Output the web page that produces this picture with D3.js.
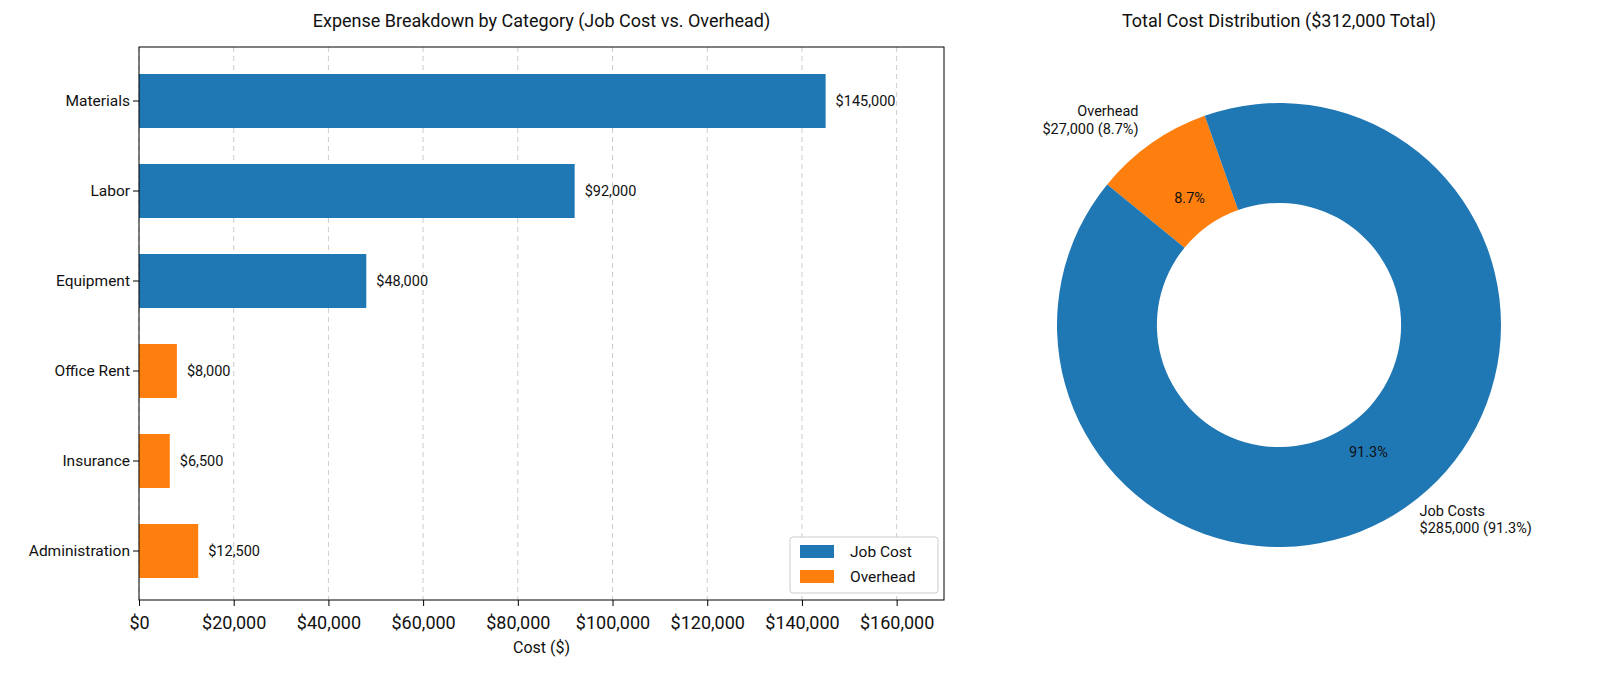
<!DOCTYPE html>
<html><head><meta charset="utf-8">
<script src="https://cdn.jsdelivr.net/npm/d3@7"></script>
<style>body{margin:0;background:#fff}text{font-family:Roboto,"Open Sans",sans-serif;fill:#111}</style>
</head><body><svg id="c" width="1600" height="685"></svg>
<script>
const categories = ["Materials","Labor","Equipment","Office Rent","Insurance","Administration"];
const costs = [145000,92000,48000,8000,6500,12500];
const types = ["Job Cost","Job Cost","Job Cost","Overhead","Overhead","Overhead"];
const xTicks = [0,20000,40000,60000,80000,100000,120000,140000,160000];
const pieLabels = ["Overhead","Job Costs"];
const pieValues = [27000,285000];
const colors = {"Job Cost":"#1f77b4","Overhead":"#ff7f0e"};
const pieColors = ["#ff7f0e","#1f77b4"];
const fmt = d3.format(",");

const svg = d3.select("#c");
const L = 139, R = 944, T = 47, B = 600;
const x = d3.scaleLinear().domain([0,170000]).range([L,R]);
const y = d3.scaleBand().domain(categories).range([56,596]).paddingInner(0.4).paddingOuter(0.2);

const g = svg.append("g");
g.selectAll(".grid").data(xTicks).join("line")
  .attr("x1",d=>x(d)).attr("x2",d=>x(d)).attr("y1",T).attr("y2",B)
  .attr("stroke","#ccc").attr("stroke-dasharray","5,4");
g.selectAll(".bar").data(categories).join("rect")
  .attr("x",L).attr("y",d=>y(d)).attr("height",y.bandwidth())
  .attr("width",(d,i)=>x(costs[i])-L).attr("fill",(d,i)=>colors[types[i]]);
g.selectAll(".val").data(categories).join("text")
  .attr("x",(d,i)=>x(costs[i])+10).attr("y",d=>y(d)+y.bandwidth()/2).attr("dy","0.35em")
  .attr("font-size",14.5).text((d,i)=>"$"+fmt(costs[i]));
g.append("rect").attr("x",L).attr("y",T).attr("width",R-L).attr("height",B-T)
  .attr("fill","none").attr("stroke","#000");

const xa = svg.append("g").attr("transform",`translate(0,${B})`)
  .call(d3.axisBottom(x).tickValues(xTicks).tickFormat(d=>"$"+fmt(d)).tickSizeOuter(0));
xa.select(".domain").remove();
xa.selectAll("text").attr("font-size",18).attr("dy","1.1em").style("font-family","Roboto,sans-serif");
const ya = svg.append("g").attr("transform",`translate(${L},0)`)
  .call(d3.axisLeft(y).tickSizeOuter(0));
ya.select(".domain").remove();
ya.selectAll("text").attr("font-size",15.5).style("font-family","Roboto,sans-serif");

svg.append("text").attr("x",(L+R)/2).attr("y",653).attr("text-anchor","middle").attr("font-size",16).text("Cost ($)");
svg.append("text").attr("x",(L+R)/2).attr("y",27).attr("text-anchor","middle").attr("font-size",18)
  .text("Expense Breakdown by Category (Job Cost vs. Overhead)");

// legend
const lg = svg.append("g").attr("transform","translate(790,537)");
lg.append("rect").attr("width",148).attr("height",56).attr("rx",3).attr("fill","#fff").attr("stroke","#ccc");
["Job Cost","Overhead"].forEach((k,i)=>{
  lg.append("rect").attr("x",10).attr("y",8+i*25).attr("width",34).attr("height",13).attr("fill",colors[k]);
  lg.append("text").attr("x",60).attr("y",15+i*25).attr("dy","0.35em").attr("font-size",15.5).text(k);
});

// donut
const cx = 1279, cy = 325, r = 222;
const pg = svg.append("g").attr("transform",`translate(${cx},${cy})`);
const deg = Math.PI/180;
const pie = d3.pie().sort(null).startAngle(-50.7*deg).endAngle(309.3*deg);
const arcs = pie(pieValues);
const total = d3.sum(pieValues);
pg.selectAll("path").data(arcs).join("path")
  .attr("d",d3.arc().innerRadius(r*0.55).outerRadius(r)).attr("fill",(d,i)=>pieColors[i]);
arcs.forEach((a,i)=>{
  const m = (a.startAngle+a.endAngle)/2;
  const pct = (pieValues[i]/total*100).toFixed(1)+"%";
  pg.append("text").attr("x",Math.sin(m)*r*0.7).attr("y",-Math.cos(m)*r*0.7).attr("dy","0.35em")
    .attr("text-anchor","middle").attr("font-size",14.5).text(pct);
  const lx = Math.sin(m)*r*1.1, ly = -Math.cos(m)*r*1.1;
  const t = pg.append("text").attr("x",lx).attr("y",ly-9).attr("font-size",14.5)
    .attr("text-anchor",lx<0?"end":"start");
  t.append("tspan").attr("x",lx).text(pieLabels[i]);
  t.append("tspan").attr("x",lx).attr("dy","1.2em").text("$"+fmt(pieValues[i])+" ("+pct+")");
});
svg.append("text").attr("x",cx).attr("y",27).attr("text-anchor","middle").attr("font-size",18)
  .text("Total Cost Distribution ($312,000 Total)");
</script></body></html>
